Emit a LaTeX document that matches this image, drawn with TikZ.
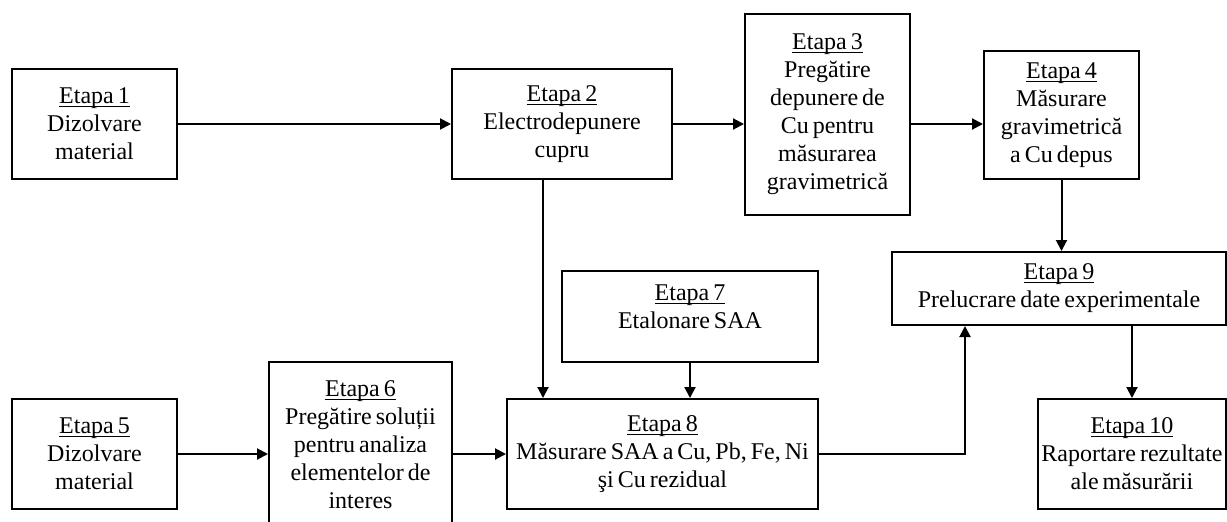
\documentclass[tikz,border=0pt]{standalone}
\usepackage{fontspec}
\setmainfont{Liberation Serif}
\usetikzlibrary{arrows.meta}

\newcommand{\et}[1]{\underline{\raisebox{0pt}[\height][0pt]{Etapa #1}}}
\newcommand{\etfont}{\fontsize{12}{14}\selectfont\spaceskip=2pt plus 1pt\relax}

\tikzset{
	etapa/.style={draw, line width=1pt, align=center, inner sep=0pt, font=\etfont},
	arr/.style={line width=1pt, -{Triangle[length=5.5pt,width=5.5pt]}}
}

\begin{document}
\begin{tikzpicture}[x=0.5pt,y=-0.5pt]
			
			\useasboundingbox (0,0) rectangle (1227,521);
			
			\node[etapa, minimum width=82.5pt, minimum height=55pt] (e1) at (94.5,124) {\et{1}\\Dizolvare\\material};
			\node[etapa, minimum width=110pt, minimum height=55pt] (e2) at (562,124) {\et{2}\\Electrodepunere\\cupru};
			\node[etapa, minimum width=82.5pt, minimum height=100.5pt] (e3) at (827.5,114.5) {\et{3}\\Pregătire\\depunere de\\Cu pentru\\măsurarea\\gravimetrică};
			\node[etapa, minimum width=77.5pt, minimum height=64pt] (e4) at (1061.5,115) {\et{4}\\Măsurare\\gravimetrică\\a Cu depus};
			\node[etapa, minimum width=167pt, minimum height=36.5pt] (e9) at (1059,288.5) {\et{9}\\Prelucrare date experimentale};
			\node[etapa, minimum width=128pt, minimum height=45.5pt] (e7) at (690,316.5) {\et{7}\\Etalonare SAA\\[-4pt]\mbox{}};
			\node[etapa, minimum width=82.5pt, minimum height=55pt] (e5) at (94.5,454) {\et{5}\\Dizolvare\\material};
			\node[etapa, minimum width=91.5pt, minimum height=83pt] (e6) at (360.5,445) {\et{6}\\Pregătire soluții\\pentru analiza\\elementelor de\\interes};
			\node[etapa, minimum width=155.5pt, minimum height=55pt] (e8) at (662.5,454) {\et{8}\\Măsurare SAA a Cu, Pb, Fe, Ni\\şi Cu rezidual};
			\node[etapa, minimum width=94pt, minimum height=55pt] (e10) at (1132,454) {\et{10}\\Raportare rezultate\\ale măsurării};
			
			\coordinate (c2) at ([xshift=-9.5pt]e2.south);
			\coordinate (c9) at ([xshift=37pt]e9.south west);
			
			\draw[arr] (e1.east) -- (e2.west);
			\draw[arr] (e2.east) -- (e2.east -| e3.west);
			\draw[arr] (e2.east -| e3.east) -- (e2.east -| e4.west);
			\draw[arr] (e4.south) -- (e4.south |- e9.north);
			\draw[arr] (c2) -- (c2 |- e8.north);
			\draw[arr] (e7.south) -- (e7.south |- e8.north);
			\draw[arr] (e5.east) -- (e5.east -| e6.west);
			\draw[arr] (e5.east -| e6.east) -- (e8.west);
			\draw[arr] (e8.east) -| (c9);
			\draw[arr] (e10.north |- e9.south) -- (e10.north);
			
		 \end{tikzpicture}
\end{document}
